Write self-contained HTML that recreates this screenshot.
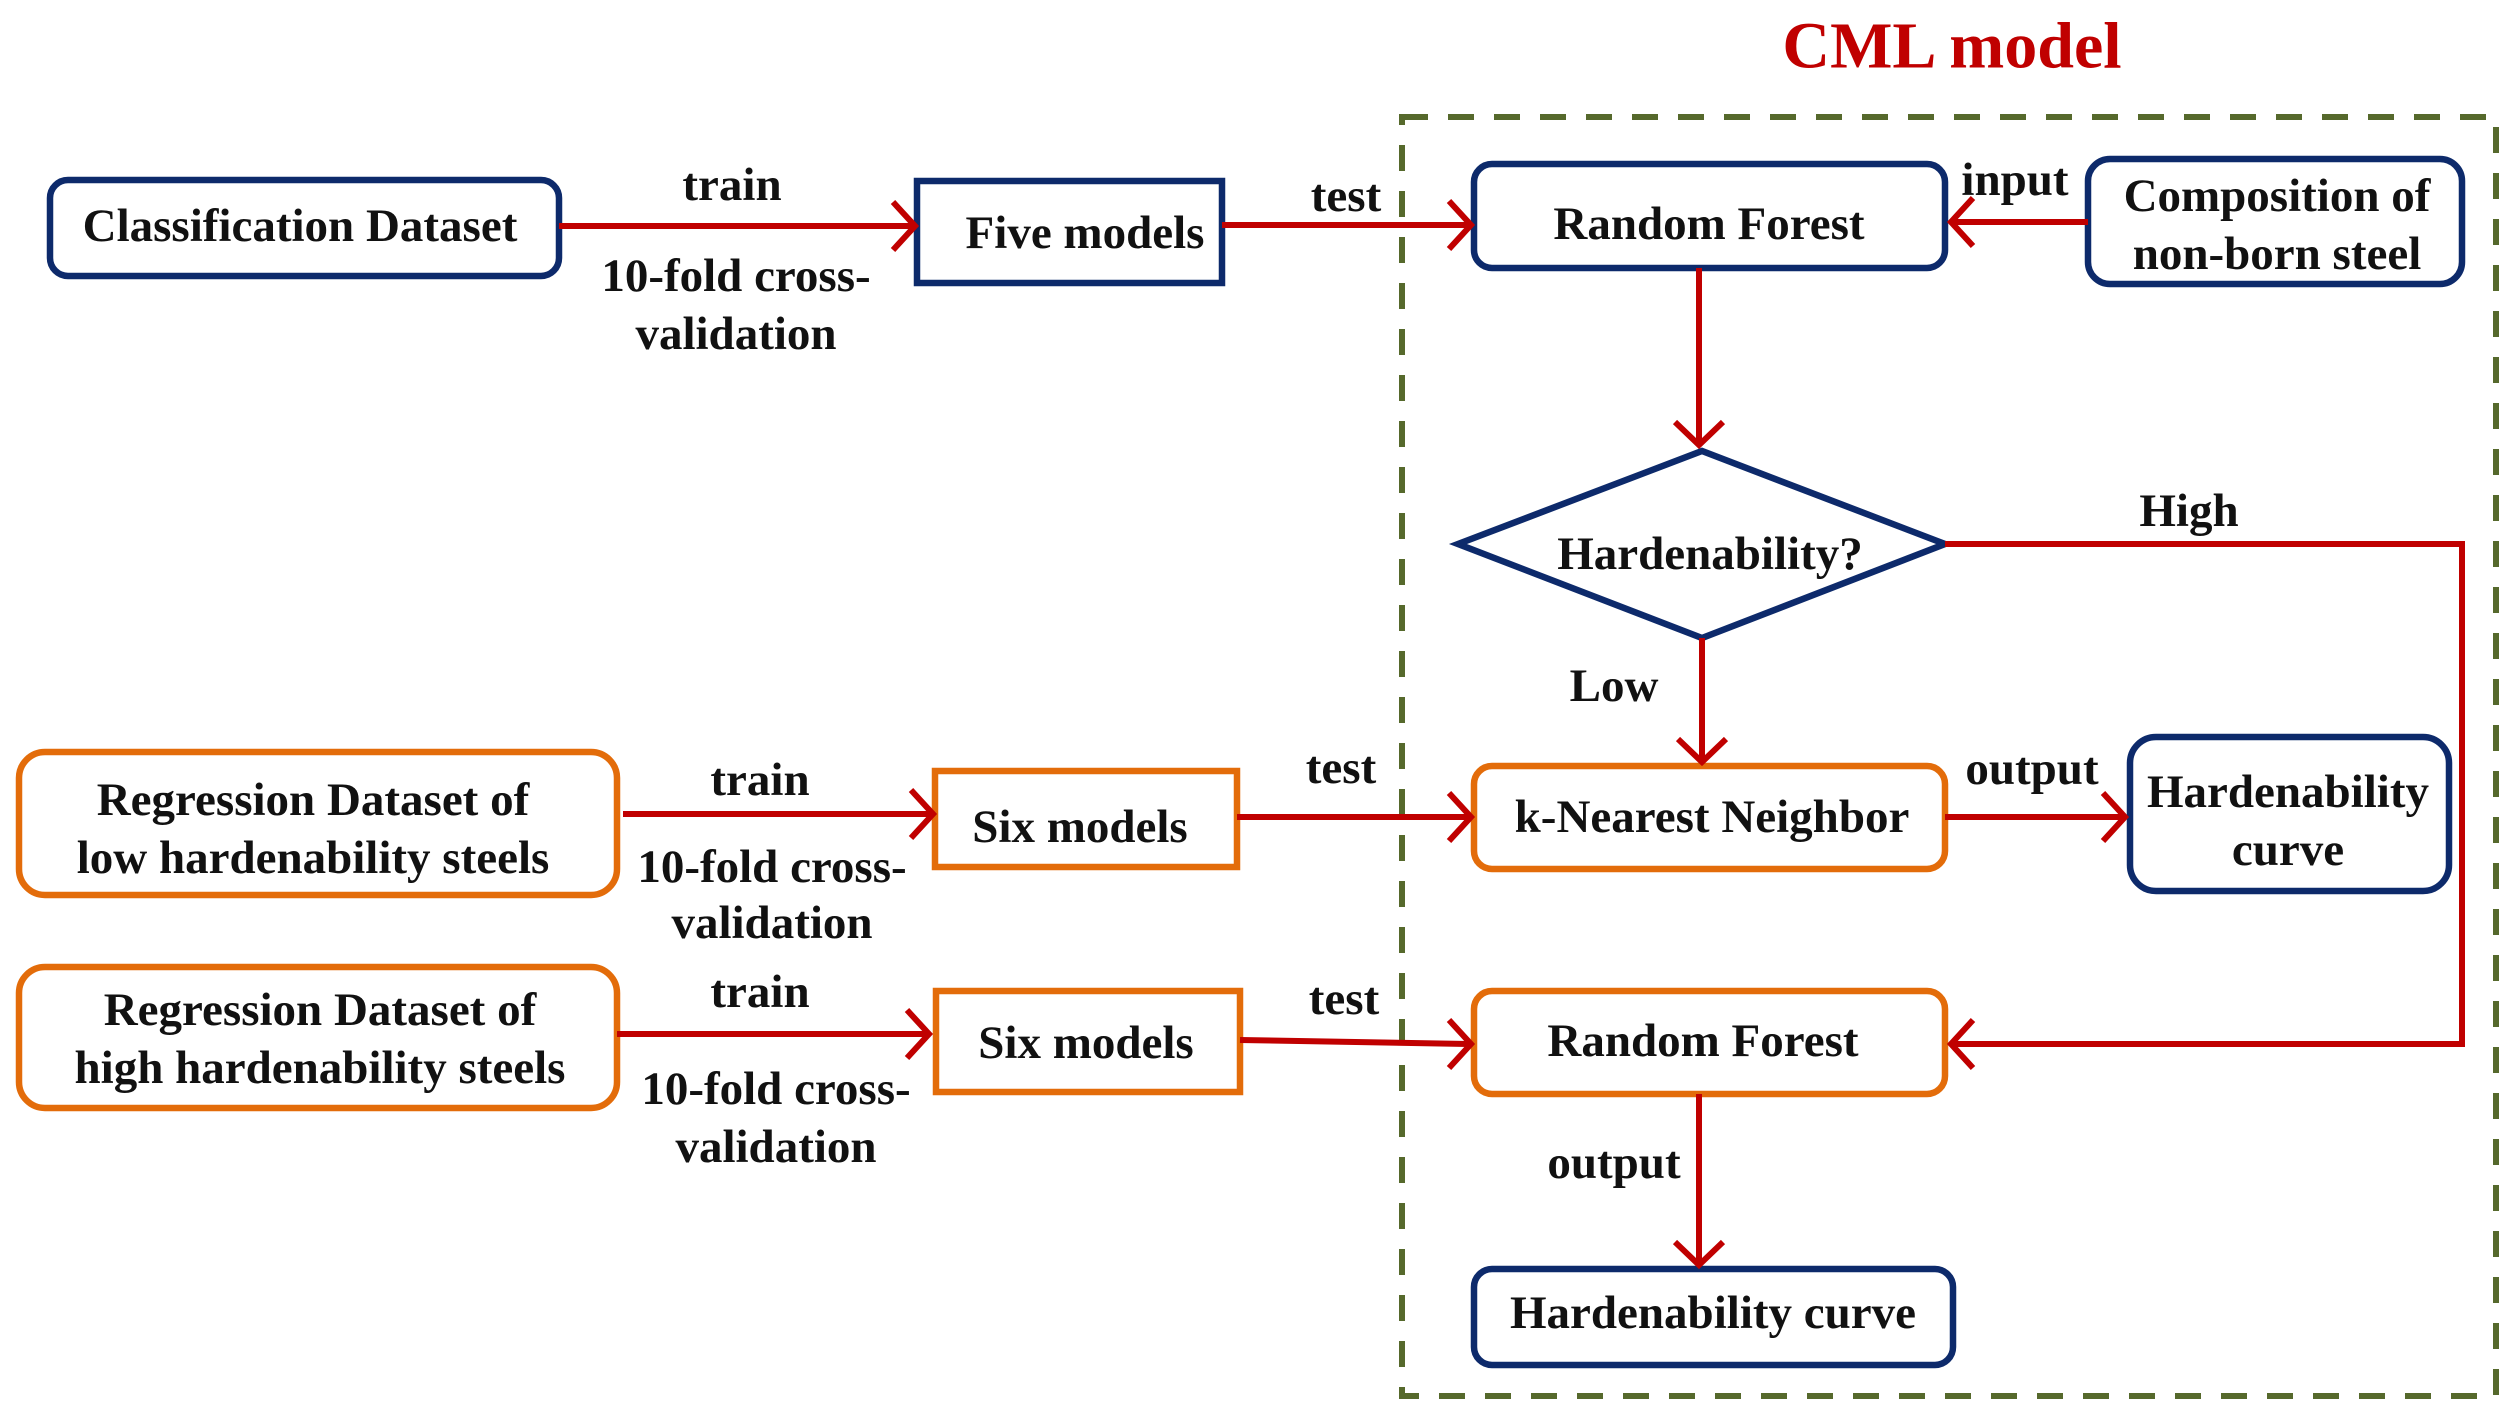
<!DOCTYPE html>
<html><head><meta charset="utf-8"><style>
html,body{margin:0;padding:0;background:#fff}
svg{display:block}
text{font-family:"Liberation Serif",serif;font-weight:bold;fill:#111;text-anchor:middle;dominant-baseline:central}
</style></head><body>
<svg width="2506" height="1419" viewBox="0 0 2506 1419" xmlns="http://www.w3.org/2000/svg">
<!-- title -->
<text x="1952" y="46" style="fill:#c00000;font-size:66px">CML model</text>
<!-- dashed container -->
<rect x="1402" y="117" width="1094" height="1279" fill="none" stroke="#56692c" stroke-width="6" stroke-dasharray="26,20"/>

<g fill="#fff" stroke-width="6.5">
<rect x="50" y="180" width="509" height="96" rx="18" stroke="#0d2a6b"/>
<rect x="917" y="181" width="305" height="102" stroke="#0d2a6b"/>
<rect x="1474" y="164" width="471" height="104" rx="18" stroke="#0d2a6b"/>
<rect x="2088" y="159" width="374" height="125" rx="22" stroke="#0d2a6b"/>
<polygon points="1458,544 1702,451 1945,544 1702,638" stroke="#0d2a6b"/>
<rect x="19" y="752" width="598" height="143" rx="26" stroke="#e36c0a"/>
<rect x="935" y="771" width="302" height="96" stroke="#e36c0a"/>
<rect x="1474" y="766" width="471" height="103" rx="18" stroke="#e36c0a"/>
<rect x="2130" y="737" width="319" height="154" rx="26" stroke="#0d2a6b"/>
<rect x="19" y="967" width="598" height="141" rx="26" stroke="#e36c0a"/>
<rect x="936" y="991" width="304" height="101" stroke="#e36c0a"/>
<rect x="1474" y="991" width="471" height="103" rx="18" stroke="#e36c0a"/>
<rect x="1474" y="1269" width="479" height="96" rx="18" stroke="#0d2a6b"/>
</g>

<g stroke="#c00000" stroke-width="6" fill="none" stroke-linecap="butt">
<line x1="559" y1="226" x2="912" y2="226"/>
<polyline points="893,202 915,226 893,250"/>
<line x1="1222" y1="225" x2="1468" y2="225"/>
<polyline points="1449,201 1471,225 1449,249"/>
<line x1="2088" y1="222" x2="1952" y2="222"/>
<polyline points="1973,198 1951,222 1973,246"/>
<line x1="1699" y1="268" x2="1699" y2="442"/>
<polyline points="1675,422 1699,445 1723,422"/>
<polyline points="1945,544 2462,544 2462,1044 1952,1044"/>
<polyline points="1973,1020 1951,1044 1973,1068"/>
<line x1="1702" y1="638" x2="1702" y2="758"/>
<polyline points="1678,739 1702,762 1726,739"/>
<line x1="1945" y1="817" x2="2122" y2="817"/>
<polyline points="2103,793 2125,817 2103,841"/>
<line x1="623" y1="814" x2="930" y2="814"/>
<polyline points="911,790 933,814 911,838"/>
<line x1="1237" y1="817" x2="1468" y2="817"/>
<polyline points="1449,793 1471,817 1449,841"/>
<line x1="617" y1="1034" x2="926" y2="1034"/>
<polyline points="907,1010 929,1034 907,1058"/>
<line x1="1240" y1="1040" x2="1468" y2="1044"/>
<polyline points="1449,1020 1471,1044 1449,1068"/>
<line x1="1699" y1="1094" x2="1699" y2="1262"/>
<polyline points="1675,1242 1699,1265 1723,1242"/>
</g>

<g style="font-size:47px">
<text x="300" y="226">Classification Dataset</text>
<text x="1085" y="233">Five models</text>
<text x="1709" y="224">Random Forest</text>
<text x="2277" y="196">Composition of</text>
<text x="2277" y="254">non-born steel</text>
<text x="1710" y="554">Hardenability?</text>
<text x="313" y="800">Regression Dataset of</text>
<text x="313" y="858">low hardenability steels</text>
<text x="1080" y="827">Six models</text>
<text x="1712" y="817">k-Nearest Neighbor</text>
<text x="2288" y="792">Hardenability</text>
<text x="2288" y="850">curve</text>
<text x="320" y="1010">Regression Dataset of</text>
<text x="320" y="1068">high hardenability steels</text>
<text x="1086" y="1043">Six models</text>
<text x="1703" y="1041">Random Forest</text>
<text x="1713" y="1313">Hardenability curve</text>

<text x="732" y="185">train</text>
<text x="736" y="276">10-fold cross-</text>
<text x="736" y="334">validation</text>
<text x="1346" y="196">test</text>
<text x="2015" y="180">input</text>
<text x="2189" y="511">High</text>
<text x="1614" y="686">Low</text>
<text x="2032" y="769">output</text>
<text x="760" y="780">train</text>
<text x="772" y="867">10-fold cross-</text>
<text x="772" y="923">validation</text>
<text x="1341" y="768">test</text>
<text x="760" y="992">train</text>
<text x="776" y="1089">10-fold cross-</text>
<text x="776" y="1147">validation</text>
<text x="1344" y="999">test</text>
<text x="1614" y="1163">output</text>
</g>
</svg>
</body></html>
